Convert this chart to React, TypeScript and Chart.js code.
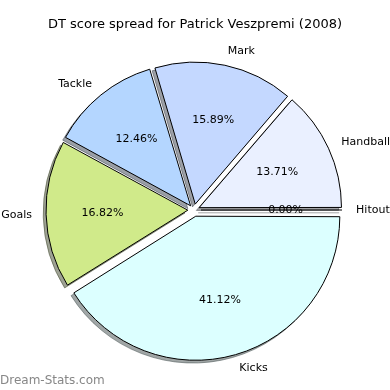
import React, { useEffect, useRef } from 'react';
import { Chart, registerables } from 'chart.js';

Chart.register(...registerables);

const TITLE = 'DT score spread for Patrick Veszpremi (2008)';
const WATERMARK = 'Dream-Stats.com';

// Slices in drawing order (clockwise from 3 o'clock)
const categories = ['Kicks', 'Goals', 'Tackle', 'Mark', 'Handball', 'Hitout'];
const shares = [41.12, 16.82, 12.46, 15.89, 13.71, 0.0];
const sliceColors = ['#DCFFFF', '#D0EA8A', '#B4D6FF', '#C4D8FF', '#EAF0FF', '#EEF4FF'];
const explodePx = [9.5, 7, 7, 7, 7, 7];

const FONT = '"DejaVu Sans", sans-serif';
const SHADOW_DX = -2.8;
const SHADOW_DY = 2.8;
const PIE_RADIUS = 141;

function shade(hex: string, rho: number, alpha: number): string {
  const h = hex.replace('#', '');
  const r = parseInt(h.slice(0, 2), 16) * rho;
  const g = parseInt(h.slice(2, 4), 16) * rho;
  const b = parseInt(h.slice(4, 6), 16) * rho;
  return `rgba(${Math.round(r)},${Math.round(g)},${Math.round(b)},${alpha})`;
}

function offsetFor(i: number): number {
  const total = shares.reduce((a, b) => a + b, 0);
  const circ = (shares[i] / total) * 2 * Math.PI;
  const fix = 1 - Math.sin(Math.min(Math.PI, circ));
  return (4 * explodePx[i]) / (1 + fix);
}

function drawZeroLine(ctx: CanvasRenderingContext2D, el: any, i: number, color: string) {
  const { x, y, startAngle, outerRadius } = el.getProps(['x', 'y', 'startAngle', 'outerRadius'], true);
  const ex = explodePx[i];
  const c = Math.cos(startAngle);
  const s = Math.sin(startAngle);
  ctx.beginPath();
  ctx.moveTo(x + ex * c, y + ex * s);
  ctx.lineTo(x + (ex + outerRadius) * c, y + (ex + outerRadius) * s);
  ctx.strokeStyle = color;
  ctx.lineWidth = 1;
  ctx.stroke();
}

const piePlugin = {
  id: 'piePlugin',
  beforeDatasetsDraw(chart: any) {
    const ctx = chart.ctx as CanvasRenderingContext2D;
    const meta = chart.getDatasetMeta(0);
    ctx.save();
    ctx.translate(SHADOW_DX, SHADOW_DY);
    meta.data.forEach((el: any, i: number) => {
      const c = shade(sliceColors[i], 0.3, 0.5);
      if (el.endAngle - el.startAngle === 0) {
        drawZeroLine(ctx, el, i, c);
        return;
      }
      const orig = el.options;
      el.options = Object.assign({}, orig, { backgroundColor: c, borderColor: c });
      el.draw(ctx);
      el.options = orig;
    });
    ctx.restore();
  },
  afterDatasetsDraw(chart: any) {
    const ctx = chart.ctx as CanvasRenderingContext2D;
    const meta = chart.getDatasetMeta(0);
    const total = shares.reduce((a, b) => a + b, 0);
    ctx.save();
    meta.data.forEach((el: any, i: number) => {
      if (el.endAngle - el.startAngle === 0) drawZeroLine(ctx, el, i, '#000');
    });
    ctx.font = `11px ${FONT}`;
    ctx.fillStyle = '#000';
    ctx.textBaseline = 'middle';
    meta.data.forEach((el: any, i: number) => {
      const { x, y, startAngle, endAngle, outerRadius } = el.getProps(
        ['x', 'y', 'startAngle', 'endAngle', 'outerRadius'],
        true
      );
      const mid = (startAngle + endAngle) / 2;
      const c = Math.cos(mid);
      const s = Math.sin(mid);
      const cx = x + explodePx[i] * c;
      const cy = y + explodePx[i] * s;
      const lx = cx + 1.1 * outerRadius * c;
      const ly = cy + 1.1 * outerRadius * s;
      ctx.textAlign = lx > x ? 'left' : 'right';
      ctx.fillText(categories[i], lx, ly);
      ctx.textAlign = 'center';
      const pct = ((shares[i] / total) * 100).toFixed(2) + '%';
      ctx.fillText(pct, cx + 0.6 * outerRadius * c, cy + 0.6 * outerRadius * s);
    });
    ctx.restore();
  },
  afterDraw(chart: any) {
    const ctx = chart.ctx as CanvasRenderingContext2D;
    ctx.save();
    ctx.fillStyle = '#000';
    ctx.font = `13px ${FONT}`;
    ctx.textAlign = 'center';
    ctx.textBaseline = 'middle';
    ctx.fillText(TITLE, 195, 25);
    ctx.fillStyle = 'rgb(135,135,135)';
    ctx.font = `12px ${FONT}`;
    ctx.textAlign = 'left';
    ctx.textBaseline = 'alphabetic';
    ctx.fillText(WATERMARK, 0, 384);
    ctx.restore();
  },
};

export default function App() {
  const ref = useRef<HTMLCanvasElement | null>(null);
  useEffect(() => {
    if (!ref.current) return;
    const chart = new Chart(ref.current, {
      type: 'pie',
      data: {
        labels: categories,
        datasets: [
          {
            data: shares,
            backgroundColor: sliceColors,
            borderColor: '#000',
            borderWidth: 1,
            borderJoinStyle: 'miter',
            offset: (ctx: any) => offsetFor(ctx.dataIndex),
            hoverOffset: 0,
            radius: PIE_RADIUS,
            clip: false,
          } as any,
        ],
      },
      options: {
        responsive: false,
        animation: false,
        events: [],
        rotation: 90,
        layout: { padding: { left: 50, right: 52, top: 60, bottom: 30 } },
        plugins: {
          legend: { display: false },
          title: { display: false },
          tooltip: { enabled: false },
        },
      } as any,
      plugins: [piePlugin],
    });
    return () => chart.destroy();
  }, []);
  return (
    <div style={{ position: 'fixed', left: 0, top: 0, width: 390, height: 390, background: '#fff' }}>
      <canvas ref={ref} width={390} height={390} />
    </div>
  );
}
